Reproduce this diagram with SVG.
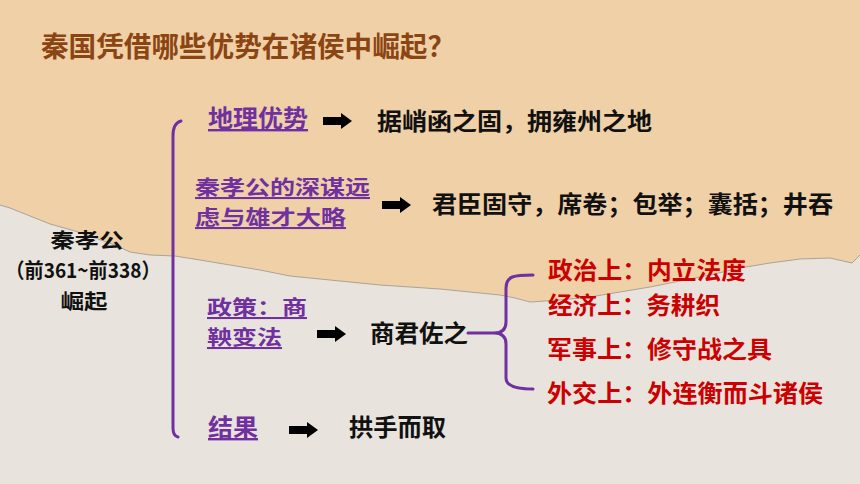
<svg xmlns="http://www.w3.org/2000/svg" width="860" height="484" viewBox="0 0 860 484">
<style>
text{font-family:"Noto Sans CJK SC","Noto Sans",sans-serif;font-weight:700}
.title{font-size:28px;fill:#8B4513}
.pur{font-size:24px;fill:#7030A0;text-decoration:underline}
.blk{font-size:24px;fill:#111}
.red{font-size:24px;fill:#CC0000}
.ml{font-size:20.5px}
.brace{stroke:#7030A0;stroke-width:3;fill:none;stroke-linecap:round;stroke-linejoin:round}
.arrow{fill:#000}
</style>
<defs>
<path id="arr" d="M0,-4 H18 V-8 L29,0 L18,8 V4 H0 Z"/>
</defs>
<g id="background">
<rect x="0" y="0" width="860" height="484" fill="#E8E4DD"/>
<path d="M0,0 H860 V255 L852,263 L830,258 L800,259 L770,263 L740,268 L710,275 L680,281 L650,287 L620,292 L590,297 L560,300 L545,301 L530,302 L515,298 L500,295 L470,292 L440,289 L410,287 L380,285 L350,282 L320,279 L290,276 L260,270 L230,265 L200,260 L175,256 L150,255 L130,252 L115,245 L95,238 L75,231 L50,224 L25,214 L10,208 L0,205 Z" fill="#EFD0A7"/>
<path d="M860,255 L852,263 L830,258 L800,259 L770,263 L740,268 L710,275 L680,281 L650,287 L620,292 L590,297 L560,300 L545,301 L530,302 L515,298 L500,295 L470,292 L440,289 L410,287 L380,285 L350,282 L320,279 L290,276 L260,270 L230,265 L200,260 L175,256 L150,255 L130,252 L115,245 L95,238 L75,231 L50,224 L25,214 L10,208 L0,205" fill="none" stroke="#A9A39B" stroke-width="1" stroke-linejoin="round"/>
</g>
<g id="title"><text class="title" x="41" y="57" textLength="414" lengthAdjust="spacingAndGlyphs">秦国凭借哪些优势在诸侯中崛起？</text></g>
<g id="root">
<text class="blk ml" text-anchor="middle"><tspan x="87" y="248" textLength="73" lengthAdjust="spacingAndGlyphs">秦孝公</tspan><tspan x="83" y="278" textLength="155" lengthAdjust="spacingAndGlyphs">（前361~前338）</tspan><tspan x="84" y="309" textLength="47" lengthAdjust="spacingAndGlyphs">崛起</tspan></text>
</g>
<g id="n-geo">
<text class="pur" x="208" y="127" textLength="100" lengthAdjust="spacingAndGlyphs">地理优势</text>
</g>
<g id="n-geo-res"><text class="blk" x="377" y="130" textLength="275" lengthAdjust="spacingAndGlyphs">据峭函之固，拥雍州之地</text></g>
<g id="n-lord">
<text class="pur ml"><tspan x="195" y="195" textLength="175" lengthAdjust="spacingAndGlyphs">秦孝公的深谋远</tspan><tspan x="195" y="225" textLength="151" lengthAdjust="spacingAndGlyphs">虑与雄才大略</tspan></text>
</g>
<g id="n-lord-res"><text class="blk" x="432" y="213" textLength="401" lengthAdjust="spacingAndGlyphs">君臣固守，席卷；包举；囊括；井吞</text></g>
<g id="n-policy">
<text class="pur ml"><tspan x="207" y="315" textLength="100" lengthAdjust="spacingAndGlyphs">政策：商</tspan><tspan x="207" y="345" textLength="75" lengthAdjust="spacingAndGlyphs">鞅变法</tspan></text>
</g>
<g id="n-shang"><text class="blk" x="370" y="342" textLength="98" lengthAdjust="spacingAndGlyphs">商君佐之</text></g>
<g id="n-politics"><text class="red" x="548" y="279" textLength="198" lengthAdjust="spacingAndGlyphs">政治上：内立法度</text></g>
<g id="n-economy"><text class="red" x="548" y="314" textLength="172" lengthAdjust="spacingAndGlyphs">经济上：务耕织</text></g>
<g id="n-military"><text class="red" x="547" y="358" textLength="225" lengthAdjust="spacingAndGlyphs">军事上：修守战之具</text></g>
<g id="n-diplomacy"><text class="red" x="547" y="402" textLength="276" lengthAdjust="spacingAndGlyphs">外交上：外连衡而斗诸侯</text></g>
<g id="n-result">
<text class="pur" x="208" y="436" textLength="50" lengthAdjust="spacingAndGlyphs">结果</text>
</g>
<g id="n-result-res"><text class="blk" x="349" y="436" textLength="97" lengthAdjust="spacingAndGlyphs">拱手而取</text></g>
<g id="connectors">
<path class="brace" d="M181,121 Q173,123 173,136 V428 Q173,436 178,437"/>
<path class="brace" stroke-width="2.6" d="M533,275 C514,275 506,276 506,288 V322 Q506,333 494,333 H468 M494,333 Q506,333 506,344 V378 Q506,389 533,389"/>
<use href="#arr" class="arrow" x="323" y="121"/>
<use href="#arr" class="arrow" x="382" y="205"/>
<use href="#arr" class="arrow" x="317" y="334"/>
<use href="#arr" class="arrow" x="289" y="430"/>
</g>
</svg>
